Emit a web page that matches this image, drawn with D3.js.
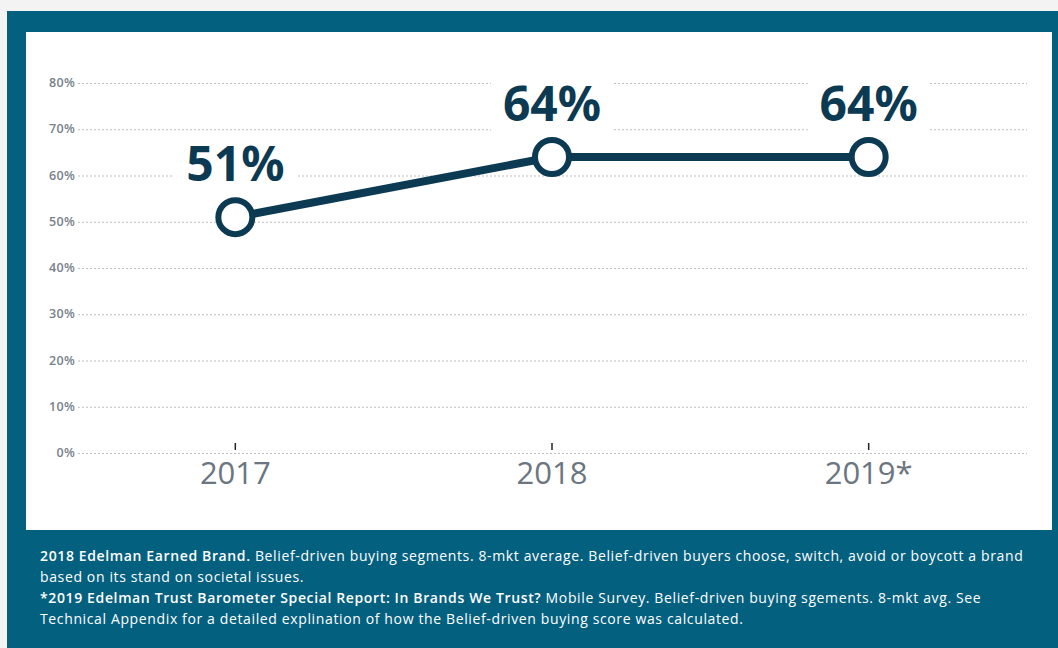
<!DOCTYPE html>
<html>
<head>
<meta charset="utf-8">
<script src="https://cdn.jsdelivr.net/npm/d3@7"></script>
<style>
  html, body { margin: 0; padding: 0; background: #f3f3f3; }
  svg { display: block; }
</style>
</head>
<body>
<svg id="chart" width="1058" height="648"></svg>
<script>
const years = ['2017', '2018', '2019*'];
const values = [51, 64, 64];
const yTicks = [0, 10, 20, 30, 40, 50, 60, 70, 80];
const notes = [
  [{ b: true, t: '2018 Edelman Earned Brand.' }, { b: false, t: ' Belief-driven buying segments. 8-mkt average. Belief-driven buyers choose, switch, avoid or boycott a brand' }],
  [{ b: false, t: 'based on its stand on societal issues.' }],
  [{ b: true, t: '*2019 Edelman Trust Barometer Special Report: In Brands We Trust?' }, { b: false, t: ' Mobile Survey. Belief-driven buying sgements. 8-mkt avg. See' }],
  [{ b: false, t: 'Technical Appendix for a detailed explination of how the Belief-driven buying score was calculated.' }]
];

const DARK = '#0b3a52';
const TEAL = '#04607f';
const GREY = '#6b7680';

const svg = d3.select('#chart');

// frame + white panel
svg.append('rect').attr('x', 7).attr('y', 11).attr('width', 1051).attr('height', 637).attr('fill', TEAL);
svg.append('rect').attr('x', 26).attr('y', 32).attr('width', 1026).attr('height', 498).attr('fill', '#fff');

const x = d3.scalePoint().domain(years).range([77, 1027]).padding(0.5);
const y = d3.scaleLinear().domain([0, 80]).range([453, 83]);

// grid
const grid = svg.append('g');
grid.selectAll('line')
  .data(yTicks)
  .enter()
  .append('line')
  .attr('x1', 78)
  .attr('x2', 1027)
  .attr('y1', d => y(d) + 0.5)
  .attr('y2', d => y(d) + 0.5)
  .attr('stroke', '#bdbdbd')
  .attr('stroke-width', 1)
  .attr('stroke-dasharray', '2,2');

grid.selectAll('text')
  .data(yTicks)
  .enter()
  .append('text')
  .attr('x', 75)
  .attr('y', d => y(d) + 4)
  .attr('text-anchor', 'end')
  .attr('font-family', '"Open Sans", sans-serif')
  .attr('font-size', 12.5)
  .attr('font-weight', 600)
  .attr('letter-spacing', 0.3)
  .attr('fill', '#77818a')
  .text(d => d + '%');

// x axis ticks + labels
const xAxis = svg.append('g');
xAxis.selectAll('line')
  .data(years)
  .enter()
  .append('line')
  .attr('x1', d => x(d))
  .attr('x2', d => x(d))
  .attr('y1', 443)
  .attr('y2', 450)
  .attr('stroke', '#222')
  .attr('stroke-width', 1.5);

xAxis.selectAll('text')
  .data(years)
  .enter()
  .append('text')
  .attr('x', d => x(d))
  .attr('y', 484)
  .attr('text-anchor', 'middle')
  .attr('font-family', '"Open Sans", sans-serif')
  .attr('font-size', 31)
  .attr('fill', GREY)
  .text(d => d);

// line
const line = d3.line().x((d, i) => x(years[i])).y(d => y(d));
svg.append('path')
  .datum(values)
  .attr('d', line)
  .attr('fill', 'none')
  .attr('stroke', DARK)
  .attr('stroke-width', 8);

svg.selectAll('circle.pt')
  .data(values)
  .enter()
  .append('circle')
  .attr('class', 'pt')
  .attr('cx', (d, i) => x(years[i]))
  .attr('cy', d => y(d))
  .attr('r', 17)
  .attr('fill', '#fff')
  .attr('stroke', DARK)
  .attr('stroke-width', 6);

// value labels with white backing
const labels = svg.append('g');
values.forEach((v, i) => {
  const g = labels.append('g');
  const t = g.append('text')
    .attr('x', x(years[i]))
    .attr('y', y(v) - 36)
    .attr('text-anchor', 'middle')
    .attr('font-family', '"Noto Sans", "Open Sans", sans-serif')
    .attr('font-weight', 'bold')
    .attr('font-size', 48)
    .attr('fill', DARK)
    .text(v + '%');
  const bb = t.node().getBBox();
  g.insert('rect', 'text')
    .attr('x', bb.x - 12)
    .attr('y', bb.y + 6)
    .attr('width', bb.width + 24)
    .attr('height', bb.height - 8)
    .attr('fill', '#fff');
});

// footnotes
const foot = svg.append('g');
notes.forEach((parts, i) => {
  const t = foot.append('text')
    .attr('x', 40)
    .attr('y', 561 + i * 21)
    .attr('font-family', '"Open Sans", sans-serif')
    .attr('font-size', 14)
    .attr('letter-spacing', 0.63)
    .attr('fill', '#fff');
  parts.forEach(p => {
    t.append('tspan').attr('font-weight', p.b ? 600 : 'normal').text(p.t);
  });
});
</script>
</body>
</html>
